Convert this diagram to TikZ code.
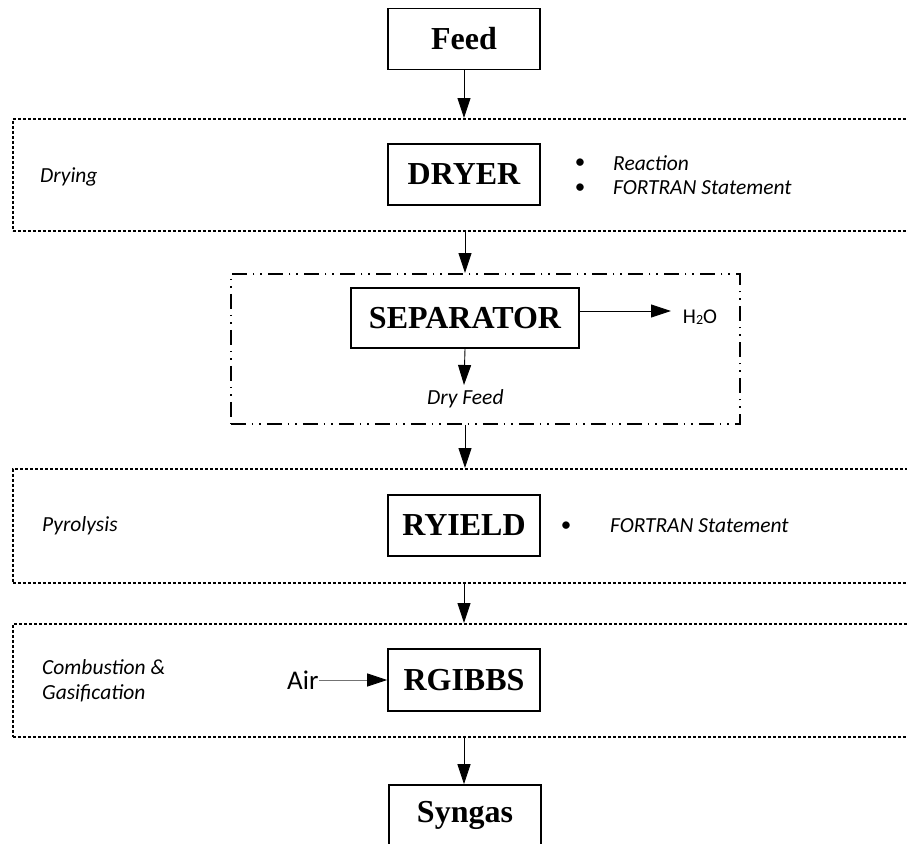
\documentclass[tikz,border=0pt]{standalone}
\usepackage{fontspec}
\setmainfont{Liberation Serif}
\newfontfamily\calib{Carlito}
\usetikzlibrary{arrows.meta}

\tikzset{
  unit/.style={draw=black, line width=1.6pt, minimum width=152pt, minimum height=61pt,
    inner sep=0pt, font=\fontsize{32}{35}\selectfont\bfseries},
  zone/.style={draw=black, line width=1.6pt, dash pattern=on 3pt off 2pt},
  sepzone/.style={draw=black, line width=1.9pt,
    dash pattern=on 15pt off 6pt on 1.5pt off 6pt on 1.5pt off 6pt},
  flow/.style={draw=black, line width=0.9pt, -{Triangle[length=20pt,width=13pt]}},
  note/.style={inner sep=0pt, anchor=west, font=\calib\itshape\fontsize{21.5}{25}\selectfont},
  dot/.style={inner sep=0pt, font=\calib\fontsize{21}{25}\selectfont},
}

\begin{document}
\begin{tikzpicture}[x=1pt, y=-1pt]
  \useasboundingbox (0,0) rectangle (907,843);

  % process stage regions
  \node[zone, inner sep=0pt, minimum width=903pt, minimum height=112pt, anchor=north west] (drying) at (12,118) {};
  \node[sepzone, inner sep=0pt, minimum width=509pt, minimum height=150pt, anchor=north west] (sepbox) at (230,273) {};
  \node[zone, inner sep=0pt, minimum width=903pt, minimum height=114pt, anchor=north west] (pyro) at (12,468) {};
  \node[zone, inner sep=0pt, minimum width=903pt, minimum height=113pt, anchor=north west] (comb) at (12,623) {};

  % unit blocks
  \node[unit] (feed) at (464,39) {Feed};
  \node[unit] (dryer) at (464,174.5) {DRYER};
  \node[unit, minimum width=228pt, minimum height=60pt] (sep) at (465,318) {SEPARATOR};
  \node[unit] (ryield) at (464,525.5) {RYIELD};
  \node[unit, minimum height=62pt] (rgibbs) at (464,680) {RGIBBS};
  \node[unit] (syngas) at (465,815.5) {Syngas};

  % stage labels
  \node[note] (ldry) at (40,177) {Drying};
  \node[note] (lpyro) at (42,526) {Pyrolysis};
  \node[note] (lcomb1) at (42,667) {Combustion \&};
  \node[note] (lcomb2) at (42,693) {Gasification};

  % model notes
  \node[dot] (b1) at (580,164) {\textbullet};
  \node[note] (n1) at (613,163) {Reaction};
  \node[dot] (b2) at (580,189) {\textbullet};
  \node[note] (n2) at (613,188) {FORTRAN Statement};
  \node[dot] (b3) at (566,527) {\textbullet};
  \node[note] (n3) at (610,526) {FORTRAN Statement};

  % side streams
  \node[inner sep=0pt, font=\calib\fontsize{21}{25}\selectfont] (water) at (700,317)
    {H\raisebox{-1pt}{\fontsize{14}{16}\selectfont 2}O};
  \coordinate (wtip) at (671,311);
  \node[note, font=\calib\fontsize{27}{30}\selectfont] (air) at (287,680) {Air};
  \node[note] (dry) at (427,399) {Dry Feed};
  \coordinate (drytip) at (464,385);

  % main flow
  \draw[flow] (feed.south) -- (feed.south |- drying.north);
  \draw[flow] (sep.south |- drying.south) -- (sep.south |- sepbox.north);
  \draw[flow] (sep.south) -- (drytip);
  \draw[flow] (sep.south |- sepbox.south) -- (sep.south |- pyro.north);
  \draw[flow] (ryield.south |- pyro.south) -- (ryield.south |- comb.north);
  \draw[flow] (rgibbs.south |- comb.south) -- (syngas.north -| rgibbs.south);
  \draw[flow] (sep.east |- wtip) -- (wtip);
  \draw[flow, draw=black!55, {Triangle[length=20pt,width=13pt,black]}-] (rgibbs.west) -- (air.east);
\end{tikzpicture}
\end{document}
